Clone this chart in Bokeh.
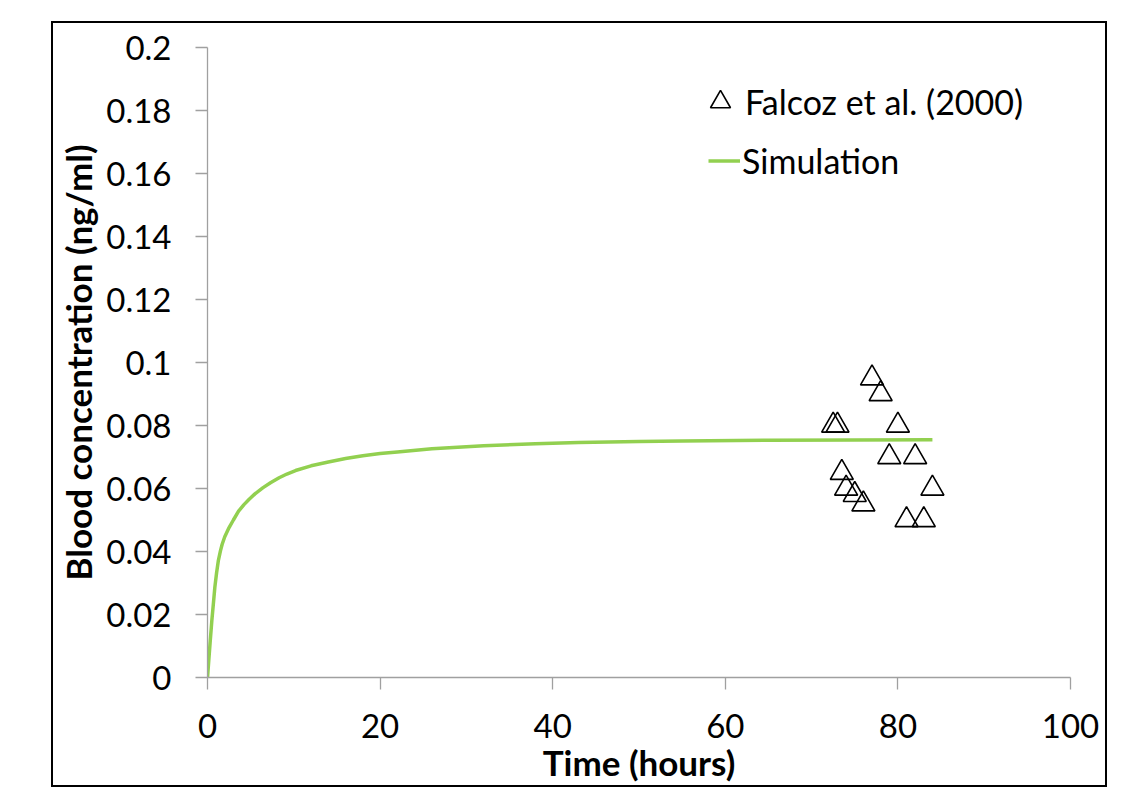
from bokeh.plotting import figure
from bokeh.models import FixedTicker, Legend, LegendItem, Range1d
from bokeh.embed import file_html
from bokeh.resources import INLINE

# Observed data: Falcoz et al. (2000)
obs_time = [72.5, 73, 77, 78, 80, 79, 82, 73.5, 74, 75, 76, 84, 81, 83]
obs_conc = [0.080, 0.080, 0.095, 0.090, 0.080, 0.070, 0.070, 0.065, 0.060, 0.058, 0.055, 0.060, 0.050, 0.050]

# Simulation curve
sim_time = [0, 0.15, 0.3, 0.5, 0.7, 0.85, 1.05, 1.25, 1.5, 1.7, 2.0, 2.5, 3.0, 3.6, 4.2,
            4.8, 5.5, 6.4, 7.3, 8.3, 9.2, 10.2, 12, 14, 16, 18, 20, 22, 26, 32, 38, 43,
            50, 55, 65, 75, 84]
sim_conc = [0, 0.0055, 0.011, 0.018, 0.024, 0.0286, 0.0332, 0.037, 0.0402, 0.0423,
            0.0447, 0.0476, 0.0500, 0.0528, 0.0548, 0.0565, 0.0583, 0.0602, 0.0618,
            0.0634, 0.0646, 0.0657, 0.0672, 0.0684, 0.0695, 0.0704, 0.0711, 0.0716,
            0.0726, 0.0736, 0.0742, 0.0746, 0.0749, 0.0751, 0.0753, 0.0754, 0.0755]

x_ticks = [0, 20, 40, 60, 80, 100]
y_ticks = [0, 0.02, 0.04, 0.06, 0.08, 0.1, 0.12, 0.14, 0.16, 0.18, 0.2]
y_tick_labels = ["0", "0.02", "0.04", "0.06", "0.08", "0.1", "0.12", "0.14", "0.16", "0.18", "0.2"]

FONT = "Lato"
AXIS_GRAY = "#a0a0a0"

p = figure(width=1056, height=766, output_backend="svg", toolbar_location=None,
           x_range=Range1d(0, 100), y_range=Range1d(0, 0.2),
           min_border_left=154, min_border_right=39, min_border_top=24, min_border_bottom=112)
p.margin = (21, 0, 0, 51)
p.styles = {"border": "2px solid black"}
p.outline_line_color = None
p.xgrid.visible = False
p.ygrid.visible = False
p.background_fill_color = "white"
p.border_fill_color = "white"

for ax in (p.xaxis[0], p.yaxis[0]):
    ax.axis_line_color = AXIS_GRAY
    ax.axis_line_width = 1.3
    ax.major_tick_line_color = AXIS_GRAY
    ax.major_tick_line_width = 1.3
    ax.major_tick_out = 12
    ax.major_tick_in = 0
    ax.minor_tick_line_color = None
    ax.major_label_text_font = FONT
    ax.major_label_text_font_size = "33px"
    ax.major_label_text_color = "black"
    ax.axis_label_text_font = FONT
    ax.axis_label_text_font_size = "35px"
    ax.axis_label_text_font_style = "bold"
    ax.axis_label_text_color = "black"

p.xaxis.ticker = FixedTicker(ticks=x_ticks)
p.yaxis.ticker = FixedTicker(ticks=y_ticks)
p.yaxis.major_label_overrides = {t: l for t, l in zip(y_ticks, y_tick_labels)}
p.xaxis.axis_label = "Time (hours)"
p.yaxis.axis_label = "Blood concentration (ng/ml)"
p.xaxis.major_label_standoff = 24
p.xaxis.axis_label_standoff = 0
p.yaxis.major_label_standoff = 24
p.yaxis.axis_label_standoff = 4

sim = p.line(sim_time, sim_conc, line_color="#92D050", line_width=3.5)
obs = p.scatter(obs_time, obs_conc, marker="triangle", size=23,
                fill_color=None, line_color="black", line_width=1.6)

leg1 = Legend(items=[LegendItem(label="Falcoz et al. (2000)", renderers=[obs])],
              location=(488, 546), glyph_width=50, glyph_height=59, label_height=59,
              label_standoff=0, padding=0, margin=0, spacing=0,
              border_line_color=None, background_fill_alpha=0,
              label_text_font=FONT, label_text_font_size="34px", label_text_color="black")
leg2 = Legend(items=[LegendItem(label="Simulation", renderers=[sim])],
              location=(501, 487), glyph_width=32, glyph_height=59, label_height=59,
              label_standoff=2, padding=0, margin=0, spacing=0,
              border_line_color=None, background_fill_alpha=0,
              label_text_font=FONT, label_text_font_size="34px", label_text_color="black")
p.add_layout(leg1, "center")
p.add_layout(leg2, "center")

open("out.html", "w").write(file_html(p, INLINE))
